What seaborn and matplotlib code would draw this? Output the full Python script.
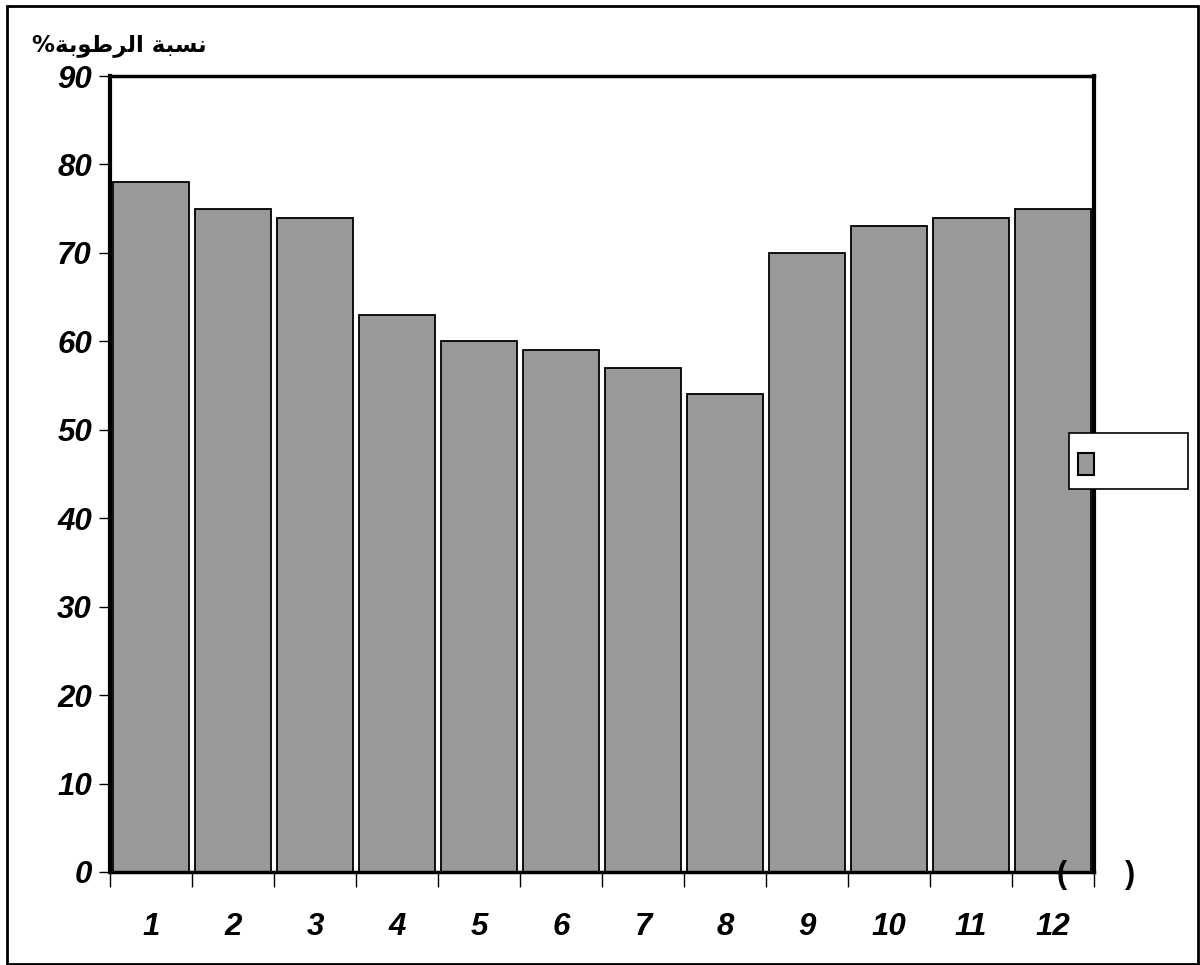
import matplotlib
matplotlib.use("Agg")
import matplotlib.pyplot as plt
from matplotlib.patches import Patch, Rectangle
from matplotlib.legend_handler import HandlerPatch
import seaborn as sns
import pandas as pd

# ---- data ----
months = ["1", "2", "3", "4", "5", "6", "7", "8", "9", "10", "11", "12"]
humidity = [78, 75, 74, 63, 60, 59, 57, 54, 70, 73, 74, 75]
y_ticks = [0, 10, 20, 30, 40, 50, 60, 70, 80, 90]
title_text = "نسبة الرطوبة%"
# visual (pre-shaped, right-to-left) form of the same Arabic title for rendering
title_visual = "%\ufe94\ufe91\ufeee\ufec3\ufeae\ufedf\ufe8d \ufe94\ufe92\ufeb4\ufee7"

sns.set_style("white")
plt.rcParams["font.family"] = ["Liberation Sans", "DejaVu Sans"]
plt.rcParams["text.color"] = "black"
plt.rcParams["xtick.color"] = "black"
plt.rcParams["ytick.color"] = "black"

df = pd.DataFrame({"month": months, "value": humidity})

fig = plt.figure(figsize=(12, 9.65), dpi=100)
ax = fig.add_axes([0.0917, 0.0964, 0.82, 0.8248])

sns.barplot(data=df, x="month", y="value", color="#999999", saturation=1,
            edgecolor="black", linewidth=1.3, width=0.92, ax=ax)

ax.set_ylim(0, 90)
ax.set_xlim(-0.5, len(months) - 0.5)
ax.set_xlabel("")
ax.set_ylabel("")
ax.set_yticks(y_ticks)
ax.set_yticklabels([str(v) for v in y_ticks], fontsize=22.5, fontweight="bold",
                   fontstyle="italic", color="black")
ax.tick_params(axis="y", length=8, width=1, color="black", pad=5, left=True)
ax.set_xticks(range(len(months)))
ax.set_xticklabels(months, fontsize=22.5, fontweight="bold", fontstyle="italic",
                   color="black")
ax.tick_params(axis="x", which="major", length=0, pad=29)
ax.set_xticks([i - 0.5 for i in range(len(months) + 1)], minor=True)
ax.tick_params(axis="x", which="minor", length=11, width=1, color="black",
               bottom=True, direction="out")

for side, lw in [("left", 3), ("bottom", 2.5), ("top", 2.5), ("right", 3)]:
    ax.spines[side].set_visible(True)
    ax.spines[side].set_color("black")
    ax.spines[side].set_linewidth(lw)

# title (Arabic)
fig.text(0.1725, 0.953, title_visual, ha="right", va="center", fontsize=16.5,
         fontweight="bold", family=["DejaVu Sans"], color="black")

# parentheses near the bottom right
fig.text(0.885, 0.093, "(", ha="center", va="center", fontsize=22, fontweight="bold")
fig.text(0.942, 0.093, ")", ha="center", va="center", fontsize=22, fontweight="bold")


# legend with empty label; small patch in a taller handle box
def small_patch(legend, orig_handle, xdescent, ydescent, width, height, fontsize):
    h = 15.8
    return Rectangle((-xdescent, -ydescent + (height - h) / 2 - 2.0), width, h)


handle = Patch(facecolor="#999999", edgecolor="black", linewidth=1.5)
leg = fig.legend(handles=[handle], labels=["              "], loc="upper left",
                 bbox_to_anchor=(0.891, 0.5513), fontsize=14, frameon=True,
                 fancybox=False, framealpha=1, edgecolor="black",
                 handlelength=0.82, handleheight=2.67, borderpad=0.45,
                 handletextpad=0.5, borderaxespad=0,
                 handler_map={Patch: HandlerPatch(patch_func=small_patch)})
leg.get_frame().set_linewidth(1.2)

# figure border
fig.patches.append(Rectangle((0.006, 0.001), 0.992, 0.993, transform=fig.transFigure,
                             fill=False, edgecolor="black", linewidth=2))

fig.savefig("out.png", dpi=100)
